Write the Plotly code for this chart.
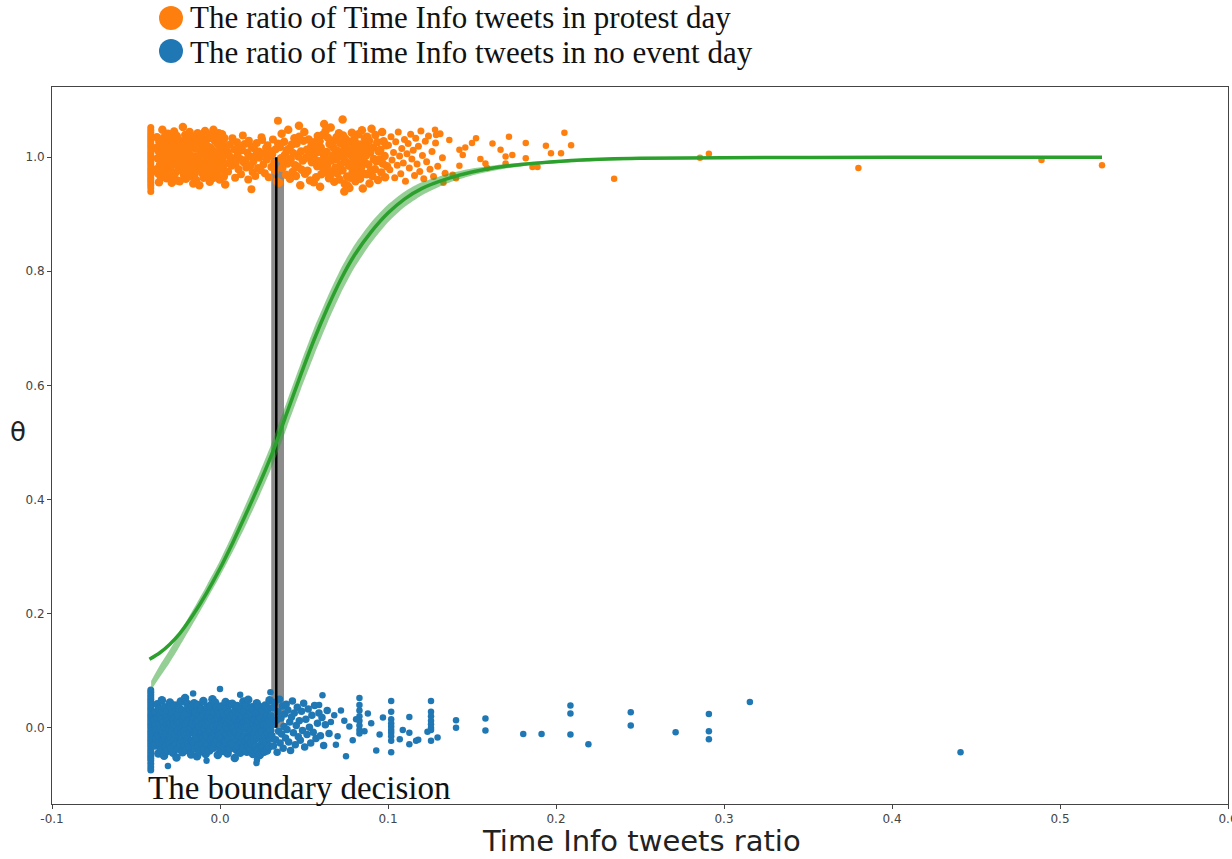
import plotly.graph_objects as go

# ---------------------------------------------------------------
# Observations: Time Info tweets ratio (x) against day label (y),
# the label is jittered around 0 (no event day) and 1 (protest day)
# ---------------------------------------------------------------

# no event days: many days share the smallest ratio value
noevent_min_x = -0.0412
noevent_min_y = [0.066, 0.062, 0.058, 0.054, 0.050, 0.046, 0.042, 0.038, 0.034, 0.030,
                 0.026, 0.022, 0.018, 0.014, 0.010, 0.006, 0.002, -0.002, -0.006, -0.010,
                 -0.014, -0.018, -0.022, -0.026, -0.030, -0.034, -0.038, -0.042, -0.046, -0.050,
                 -0.054, -0.058, -0.063, -0.069, -0.074]

noevent_x1 = [
    -0.0388, -0.0386, -0.0383, -0.0382, -0.0379, -0.0377, -0.0373, -0.0372, -0.0370, -0.0367,
    -0.0365, -0.0362, -0.0361, -0.0358, -0.0356, -0.0352, -0.0351, -0.0349, -0.0346, -0.0344,
    -0.0341, -0.0339, -0.0338, -0.0335, -0.0333, -0.0329, -0.0328, -0.0326, -0.0323, -0.0321,
    -0.0318, -0.0316, -0.0315, -0.0312, -0.0310, -0.0306, -0.0305, -0.0303, -0.0300, -0.0298,
    -0.0295, -0.0293, -0.0292, -0.0289, -0.0287, -0.0283, -0.0282, -0.0280, -0.0277, -0.0275,
    -0.0272, -0.0270, -0.0269, -0.0266, -0.0264, -0.0260, -0.0259, -0.0257, -0.0254, -0.0252,
    -0.0249, -0.0247, -0.0246, -0.0243, -0.0241, -0.0237, -0.0236, -0.0234, -0.0231, -0.0229,
    -0.0226, -0.0224, -0.0223, -0.0220, -0.0218, -0.0214, -0.0213, -0.0211, -0.0208, -0.0206,
    -0.0203, -0.0201, -0.0200, -0.0197, -0.0195, -0.0191, -0.0190, -0.0188, -0.0185, -0.0183,
    -0.0180, -0.0178, -0.0177, -0.0174, -0.0172, -0.0168, -0.0167, -0.0165, -0.0162, -0.0160,
    -0.0157, -0.0155, -0.0154, -0.0151, -0.0149, -0.0145, -0.0144, -0.0142, -0.0139, -0.0137,
    -0.0134, -0.0132, -0.0131, -0.0128, -0.0126, -0.0122, -0.0121, -0.0119, -0.0116, -0.0114,
    -0.0111, -0.0109, -0.0108, -0.0105, -0.0103, -0.0099, -0.0098, -0.0096, -0.0093, -0.0091,
    -0.0088, -0.0086, -0.0085, -0.0082, -0.0080, -0.0076, -0.0075, -0.0073, -0.0070, -0.0068,
    -0.0065, -0.0063, -0.0062, -0.0059, -0.0057, -0.0053, -0.0052, -0.0050, -0.0047, -0.0045,
    -0.0042, -0.0040, -0.0039, -0.0036, -0.0034, -0.0030, -0.0029, -0.0027, -0.0024, -0.0022,
    -0.0019, -0.0017, -0.0016, -0.0013, -0.0011, -0.0007, -0.0006, -0.0004, -0.0001, 0.0001,
    0.0004, 0.0006, 0.0007, 0.0010, 0.0012, 0.0016, 0.0017, 0.0019, 0.0022, 0.0024,
    0.0027, 0.0029, 0.0030, 0.0033, 0.0035, 0.0039, 0.0040, 0.0042, 0.0045, 0.0047,
    0.0050, 0.0052, 0.0053, 0.0056, 0.0058, 0.0062, 0.0063, 0.0065, 0.0068, 0.0070,
    0.0073, 0.0075, 0.0076, 0.0079, 0.0081, 0.0085, 0.0086, 0.0088, 0.0091, 0.0093,
    0.0096, 0.0098, 0.0099, 0.0102, 0.0104, 0.0108, 0.0109, 0.0111, 0.0114, 0.0116,
    0.0119, 0.0121, 0.0122, 0.0125, 0.0127, 0.0131, 0.0132, 0.0134, 0.0137, 0.0139,
    0.0142, 0.0144, 0.0145, 0.0148, 0.0150, 0.0154, 0.0155, 0.0157, 0.0160, 0.0162,
    0.0165, 0.0167, 0.0168, 0.0171, 0.0173, 0.0177, 0.0178, 0.0180, 0.0183, 0.0185,
    0.0188, 0.0190, 0.0191, 0.0194, 0.0196, 0.0200, 0.0201, 0.0203, 0.0206, 0.0208,
    0.0211, 0.0213, 0.0214, 0.0217, 0.0219, 0.0223, 0.0224, 0.0226, 0.0229, 0.0231,
    0.0234, 0.0236, 0.0237, 0.0240, 0.0242, 0.0246, 0.0247, 0.0249, 0.0252, 0.0254,
    0.0257, 0.0259, 0.0260, 0.0263, 0.0265, 0.0269, 0.0270, 0.0272, 0.0275, 0.0277,
    0.0280, 0.0282, 0.0283, 0.0286, 0.0288, 0.0292, 0.0293, 0.0295, 0.0298, 0.0300]
noevent_y1 = [
    0.012, -0.031, 0.004, 0.027, -0.008, -0.019, 0.041, -0.002, 0.018, -0.045,
    -0.014, 0.033, 0.007, -0.026, 0.022, -0.003, -0.038, 0.015, 0.048, -0.011,
    0.029, -0.006, -0.022, 0.010, -0.049, 0.036, 0.001, -0.017, 0.024, -0.033,
    -0.009, 0.019, -0.041, 0.005, 0.031, -0.024, 0.013, -0.001, -0.029, 0.044,
    0.037, -0.016, 0.008, -0.035, 0.020, -0.005, 0.026, -0.044, 0.002, 0.014,
    -0.021, 0.006, 0.039, -0.012, -0.030, 0.017, -0.052, 0.028, -0.007, 0.011,
    0.023, -0.037, -0.004, 0.034, -0.015, 0.009, -0.027, 0.046, -0.010, 0.000,
    -0.018, 0.030, -0.043, 0.016, 0.003, -0.025, 0.021, -0.006, 0.052, -0.032,
    0.007, -0.013, 0.025, -0.039, 0.042, -0.020, 0.011, -0.028, 0.035, -0.003,
    -0.034, 0.014, -0.008, 0.032, -0.047, 0.019, -0.001, 0.038, -0.023, 0.006,
    0.016, -0.026, 0.043, -0.010, 0.004, -0.036, 0.027, -0.015, 0.009, -0.050,
    -0.005, 0.040, -0.019, 0.012, -0.031, 0.024, -0.042, 0.001, 0.031, -0.012,
    0.033, -0.009, 0.018, -0.028, 0.006, 0.047, -0.017, 0.022, -0.038, -0.002,
    -0.024, 0.008, -0.046, 0.029, -0.013, 0.015, 0.036, -0.030, 0.003, 0.020,
    0.010, -0.040, 0.026, -0.007, 0.039, -0.021, -0.003, 0.017, -0.033, 0.050,
    -0.016, 0.021, -0.035, 0.002, 0.028, -0.011, 0.044, -0.027, 0.013, -0.004,
    0.035, -0.022, 0.005, -0.048, 0.018, -0.008, 0.030, -0.014, -0.036, 0.023,
    -0.029, 0.001, 0.037, -0.018, 0.009, -0.041, 0.014, 0.026, -0.006, -0.024,
    0.019, -0.034, 0.011, 0.045, -0.025, 0.003, -0.012, 0.034, -0.045, 0.008,
    -0.002, 0.027, -0.020, 0.013, -0.037, 0.041, -0.009, -0.030, 0.021, 0.004,
    0.042, -0.011, -0.028, 0.007, 0.023, -0.016, 0.000, -0.053, 0.017, 0.031,
    -0.007, 0.015, -0.039, 0.038, -0.021, 0.010, -0.032, 0.025, 0.002, -0.014,
    0.024, -0.044, 0.013, -0.003, 0.033, -0.026, 0.019, 0.005, -0.018, 0.046,
    -0.036, 0.009, 0.029, -0.015, -0.001, 0.040, -0.023, 0.012, -0.042, 0.018,
    0.003, -0.019, 0.049, -0.031, 0.014, -0.006, 0.022, -0.037, 0.028, -0.010,
    -0.027, 0.036, -0.004, 0.020, -0.046, 0.008, 0.032, -0.012, -0.020, 0.015,
    0.013, -0.002, -0.033, 0.026, 0.043, -0.017, 0.006, -0.040, 0.011, 0.037,
    -0.012, 0.022, -0.048, 0.000, 0.018, -0.029, 0.035, -0.007, 0.025, -0.035,
    0.030, -0.023, 0.010, -0.042, 0.005, 0.039, -0.014, 0.016, -0.026, 0.001,
    -0.040, 0.004, 0.021, -0.009, 0.034, -0.033, 0.012, 0.048, -0.019, -0.005]

noevent_x2 = [
    0.0304, 0.0309, 0.0313, 0.0318, 0.0322, 0.0327, 0.0331, 0.0336, 0.0340, 0.0345,
    0.0349, 0.0354, 0.0358, 0.0363, 0.0367, 0.0372, 0.0376, 0.0381, 0.0385, 0.0390,
    0.0394, 0.0399, 0.0404, 0.0409, 0.0415, 0.0420, 0.0426, 0.0431, 0.0437, 0.0442,
    0.0448, 0.0454, 0.0460, 0.0466, 0.0472, 0.0478, 0.0485, 0.0491, 0.0498, 0.0504,
    0.0511, 0.0518, 0.0525, 0.0532, 0.0540, 0.0547, 0.0555, 0.0563, 0.0571, 0.0580,
    0.0589, 0.0598, 0.0607, 0.0617, 0.0627, 0.0638, 0.0649]
noevent_y2 = [
    0.021, -0.014, 0.035, -0.032, 0.006, 0.044, -0.021, 0.013, -0.043, 0.028,
    -0.006, 0.050, -0.027, 0.017, -0.011, 0.038, -0.036, 0.002, 0.024, -0.018,
    0.041, -0.003, 0.031, -0.025, 0.010, -0.040, 0.019, 0.047, -0.009, 0.026,
    -0.030, 0.004, 0.036, -0.016, 0.012, -0.022, 0.029, -0.005, 0.043, -0.034,
    0.015, -0.012, 0.033, 0.001, -0.027, 0.022, -0.008, 0.039, -0.019, 0.008,
    0.026, -0.014, 0.018, -0.031, 0.005, 0.030, -0.010]

noevent_sparse_x = [
    0.083, 0.083, 0.083, 0.083, 0.083, 0.083, 0.083, 0.083,
    0.061, 0.059, 0.068, 0.075, 0.093, 0.066, 0.070, 0.072, 0.077, 0.079,
    0.081, 0.086, 0.088, 0.090, 0.095, 0.097, 0.069, 0.074,
    0.1019, 0.1019, 0.1019, 0.1019, 0.1019, 0.1019, 0.1019, 0.1019, 0.1019, 0.1019,
    0.1088, 0.1127, 0.1127, 0.1127, 0.1167, 0.1180, 0.1070,
    0.1256, 0.1256, 0.1256, 0.1256, 0.1256, 0.1256, 0.1256, 0.1256,
    0.1235, 0.1295,
    0.1405, 0.1405, 0.158, 0.158, 0.1805, 0.1914, 0.2086, 0.2086, 0.2086, 0.2193,
    0.2445, 0.2445, 0.2712, 0.291, 0.291, 0.291, 0.3154, 0.4408,
    0.000, -0.016, 0.012, 0.0217, 0.022, -0.031, -0.008, 0.030]
noevent_sparse_y = [
    0.052, 0.040, 0.030, 0.020, 0.012, 0.004, -0.004, -0.010,
    0.057, 0.040, 0.022, -0.050, -0.040, 0.010, -0.015, 0.030, 0.002, -0.022,
    0.015, -0.006, 0.025, 0.008, -0.012, 0.018, -0.030, 0.012,
    0.047, 0.028, 0.015, 0.008, 0.002, -0.004, -0.009, -0.015, -0.023, -0.043,
    -0.004, 0.019, -0.009, -0.029, -0.023, -0.021, -0.020,
    0.047, 0.028, 0.020, 0.012, 0.006, 0.000, -0.004, -0.023,
    -0.007, -0.017,
    0.013, 0.000, 0.016, -0.005, -0.011, -0.011, 0.039, 0.025, -0.012, -0.029,
    0.027, 0.004, -0.008, 0.024, -0.006, -0.020, 0.045, -0.043,
    0.068, 0.060, 0.058, -0.062, -0.056, -0.067, -0.058, 0.062]

# protest days
protest_min_x = -0.0412
protest_min_y = [1.052, 1.047, 1.043, 1.039, 1.035, 1.031, 1.027, 1.023, 1.019, 1.015,
                 1.011, 1.007, 1.003, 0.999, 0.995, 0.991, 0.987, 0.983, 0.979, 0.975,
                 0.971, 0.967, 0.963, 0.959, 0.955, 0.951, 0.946, 0.940]

protest_x1 = [
    -0.0380, -0.0377, -0.0375, -0.0371, -0.0369, -0.0366, -0.0363, -0.0361, -0.0357, -0.0355,
    -0.0352, -0.0349, -0.0347, -0.0343, -0.0341, -0.0338, -0.0335, -0.0333, -0.0329, -0.0327,
    -0.0324, -0.0321, -0.0319, -0.0315, -0.0313, -0.0310, -0.0307, -0.0305, -0.0301, -0.0299,
    -0.0296, -0.0293, -0.0291, -0.0287, -0.0285, -0.0282, -0.0279, -0.0277, -0.0273, -0.0271,
    -0.0268, -0.0265, -0.0263, -0.0259, -0.0257, -0.0254, -0.0251, -0.0249, -0.0245, -0.0243,
    -0.0240, -0.0237, -0.0235, -0.0231, -0.0229, -0.0226, -0.0223, -0.0221, -0.0217, -0.0215,
    -0.0212, -0.0209, -0.0207, -0.0203, -0.0201, -0.0198, -0.0195, -0.0193, -0.0189, -0.0187,
    -0.0184, -0.0181, -0.0179, -0.0175, -0.0173, -0.0170, -0.0167, -0.0165, -0.0161, -0.0159,
    -0.0156, -0.0153, -0.0151, -0.0147, -0.0145, -0.0142, -0.0139, -0.0137, -0.0133, -0.0131,
    -0.0128, -0.0125, -0.0123, -0.0119, -0.0117, -0.0114, -0.0111, -0.0109, -0.0105, -0.0103,
    -0.0100, -0.0097, -0.0095, -0.0091, -0.0089, -0.0086, -0.0083, -0.0081, -0.0077, -0.0075,
    -0.0072, -0.0069, -0.0067, -0.0063, -0.0061, -0.0058, -0.0055, -0.0053, -0.0049, -0.0047,
    -0.0044, -0.0041, -0.0039, -0.0035, -0.0033, -0.0030, -0.0027, -0.0025, -0.0021, -0.0019,
    -0.0016, -0.0013, -0.0011, -0.0007, -0.0005, -0.0002, 0.0001, 0.0003, 0.0007, 0.0009,
    0.0012, 0.0015, 0.0017, 0.0021, 0.0023, 0.0026, 0.0029, 0.0031, 0.0035, 0.0037]
protest_y1 = [
    1.016, 0.979, 1.035, 0.998, 0.972, 1.011, 0.956, 1.027, 0.987, 1.004,
    0.965, 1.022, 0.995, 1.048, 0.982, 1.008, 0.970, 1.014, 1.036, 0.977,
    1.029, 0.999, 0.963, 1.018, 0.991, 1.041, 0.986, 0.974, 1.006, 1.024,
    0.981, 1.034, 0.989, 0.955, 1.025, 0.997, 1.012, 0.966, 1.045, 0.992,
    1.002, 0.973, 1.020, 0.987, 1.037, 0.959, 1.009, 1.030, 0.979, 0.996,
    0.958, 1.011, 1.028, 0.993, 0.977, 1.016, 1.000, 1.053, 0.983, 0.969,
    1.007, 0.985, 1.039, 0.962, 1.021, 0.990, 1.032, 0.975, 0.998, 1.014,
    0.976, 1.044, 0.987, 1.003, 0.967, 1.026, 0.981, 0.995, 1.018, 0.954,
    1.036, 0.991, 0.971, 1.015, 1.001, 0.960, 1.023, 0.988, 1.042, 0.982,
    0.997, 1.019, 0.951, 1.031, 0.986, 1.006, 0.978, 1.037, 0.972, 1.010,
    1.027, 0.964, 1.004, 0.980, 1.046, 0.992, 0.968, 1.012, 1.020, 0.985,
    0.987, 1.002, 1.033, 0.974, 0.957, 1.017, 0.994, 1.040, 0.989, 0.963,
    1.012, 0.978, 1.048, 1.000, 0.982, 1.029, 0.965, 1.007, 0.975, 1.035,
    0.970, 1.023, 0.990, 1.042, 0.995, 0.961, 1.014, 0.984, 1.026, 0.999,
    1.040, 0.996, 0.979, 1.009, 0.966, 1.033, 0.988, 0.952, 1.019, 1.005]

protest_x2 = [
    0.0043, 0.0048, 0.0054, 0.0059, 0.0063, 0.0069, 0.0074, 0.0078, 0.0085, 0.0090,
    0.0094, 0.0101, 0.0105, 0.0110, 0.0116, 0.0121, 0.0125, 0.0132, 0.0136, 0.0141,
    0.0147, 0.0152, 0.0156, 0.0163, 0.0168, 0.0172, 0.0179, 0.0183, 0.0187, 0.0194,
    0.0199, 0.0203, 0.0210, 0.0215, 0.0219, 0.0226, 0.0231, 0.0235, 0.0242, 0.0247,
    0.0251, 0.0258, 0.0263, 0.0267, 0.0274, 0.0279, 0.0283, 0.0290, 0.0295, 0.0299,
    0.0306, 0.0311, 0.0315, 0.0322, 0.0327, 0.0331, 0.0338, 0.0345,
    0.0345, 0.0187]
protest_y2 = [
    1.010, 0.975, 1.003, 1.022, 0.993, 0.985, 1.033, 0.998, 1.014, 0.964,
    0.989, 1.026, 1.006, 0.979, 1.018, 0.997, 0.970, 1.012, 1.038, 0.991,
    1.023, 0.995, 0.982, 1.008, 0.961, 1.029, 1.001, 0.986, 1.019, 0.974,
    0.993, 1.015, 0.967, 1.004, 1.025, 0.981, 1.010, 0.999, 0.977, 1.035,
    1.030, 0.987, 1.006, 0.972, 1.016, 0.996, 1.021, 0.965, 1.002, 1.011,
    0.983, 1.005, 1.031, 0.990, 0.976, 1.014, 0.958, 1.024,
    1.064, 0.944]

protest_x3 = [
    0.0352, 0.0356, 0.0363, 0.0367, 0.0371, 0.0378, 0.0382, 0.0386, 0.0393, 0.0397,
    0.0402, 0.0406, 0.0413, 0.0417, 0.0421, 0.0428, 0.0432, 0.0436, 0.0443, 0.0447,
    0.0452, 0.0456, 0.0463, 0.0467, 0.0471, 0.0478, 0.0482, 0.0486, 0.0493, 0.0497,
    0.0502, 0.0506, 0.0513, 0.0517, 0.0521, 0.0528, 0.0532, 0.0536, 0.0543, 0.0547,
    0.0551, 0.0554, 0.0558, 0.0561, 0.0565, 0.0568, 0.0572, 0.0575, 0.0579, 0.0582,
    0.0586, 0.0589, 0.0593, 0.0596, 0.0600, 0.0603, 0.0607, 0.0610, 0.0614, 0.0617,
    0.0621, 0.0624, 0.0628, 0.0631, 0.0635, 0.0638, 0.0642, 0.0645, 0.0649, 0.0652,
    0.0656, 0.0659, 0.0663, 0.0666, 0.0670, 0.0673, 0.0677, 0.0680, 0.0684, 0.0687,
    0.0691, 0.0694, 0.0698, 0.0701, 0.0705, 0.0708, 0.0712, 0.0715, 0.0719, 0.0722,
    0.0726, 0.0729, 0.0733, 0.0736, 0.0740, 0.0743, 0.0747, 0.0750, 0.0754, 0.0757,
    0.0761, 0.0764, 0.0768, 0.0771, 0.0775, 0.0778, 0.0782, 0.0785, 0.0789, 0.0792,
    0.0796, 0.0799, 0.0803, 0.0806, 0.0810, 0.0813, 0.0817, 0.0820, 0.0824, 0.0827,
    0.0831, 0.0834, 0.0838, 0.0841, 0.0845, 0.0848, 0.0852, 0.0855, 0.0859, 0.0862,
    0.0866, 0.0869, 0.0873, 0.0876, 0.0880, 0.0883, 0.0887, 0.0890, 0.0894, 0.0897,
    0.0902, 0.0907, 0.0911, 0.0916, 0.0922, 0.0925, 0.0931, 0.0936, 0.0940, 0.0945,
    0.0951, 0.0954, 0.0960, 0.0965, 0.0969, 0.0974, 0.0980, 0.0983, 0.0989, 0.0994,
    0.0730, 0.0740, 0.0770, 0.0620, 0.0470, 0.0850]
protest_y3 = [
    0.955, 1.018, 0.998, 1.041, 0.981, 0.992, 1.027, 1.004, 0.969, 1.012,
    0.989, 1.048, 1.015, 0.962, 0.997, 1.022, 0.974, 1.007, 1.033, 0.986,
    0.967, 1.024, 0.983, 1.001, 1.036, 0.951, 1.010, 0.978, 0.994, 1.029,
    1.044, 0.971, 0.999, 1.013, 0.976, 1.031, 1.005, 0.959, 1.019, 0.991,
    1.014, 1.002, 0.956, 1.026, 0.995, 1.020, 0.965, 1.008, 0.984, 1.037,
    1.011, 0.993, 1.028, 0.948, 1.017, 0.970, 0.988, 1.039, 1.006, 0.979,
    1.000, 0.990, 1.046, 0.973, 1.009, 0.985, 1.034, 0.996, 0.963, 1.023,
    0.968, 1.052, 0.994, 1.021, 0.975, 1.003, 1.016, 0.957, 1.030, 0.982,
    0.997, 1.035, 0.972, 1.011, 0.980, 1.042, 0.961, 1.025, 0.987, 1.007,
    1.006, 0.977, 1.038, 0.999, 1.019, 0.953, 1.032, 0.992, 1.014, 0.966,
    0.950, 1.009, 0.985, 1.027, 0.964, 1.004, 0.990, 1.043, 0.974, 1.016,
    0.988, 1.031, 1.001, 0.958, 1.024, 0.969, 1.012, 0.981, 1.040, 0.995,
    0.998, 0.962, 1.022, 0.983, 1.047, 1.006, 0.972, 1.018, 0.991, 1.033,
    1.020, 1.003, 0.970, 1.036, 1.015, 0.987, 1.029, 0.954, 1.008, 0.976,
    1.050, 0.967, 1.017, 0.997, 0.979, 1.039, 0.993, 1.026, 0.960, 1.010,
    0.996, 1.013, 0.973, 1.044, 0.989, 1.028, 1.002, 0.965, 1.021, 0.984,
    1.066, 0.940, 0.946, 1.058, 1.055, 0.945]

protest_x4 = [
    0.1003, 0.1011, 0.1018, 0.1024, 0.1033, 0.1040, 0.1046, 0.1055, 0.1061, 0.1069,
    0.1076, 0.1082, 0.1091, 0.1098, 0.1104, 0.1113, 0.1120, 0.1127, 0.1135, 0.1142,
    0.1150, 0.1158, 0.1165, 0.1173, 0.1181, 0.1189, 0.1196, 0.1205, 0.1213, 0.1222,
    0.1230, 0.1241, 0.1250, 0.1262, 0.1271, 0.1283, 0.1296, 0.1310, 0.1324, 0.1340]
protest_y4 = [
    1.021, 0.978, 1.036, 0.995, 1.008, 0.964, 1.027, 0.986, 1.044, 1.002,
    0.971, 1.015, 0.990, 1.031, 0.958, 1.006, 1.024, 0.981, 1.040, 0.997,
    1.012, 0.968, 1.033, 0.988, 1.019, 0.975, 1.046, 1.003, 0.962, 1.028,
    0.992, 1.037, 0.979, 1.010, 0.966, 1.025, 0.984, 1.041, 0.999, 0.972]

protest_sparse_x = [
    0.1286, 0.1365, 0.1425, 0.1385, 0.1425, 0.1445, 0.1405, 0.1524, 0.1500, 0.1622,
    0.1720, 0.1670, 0.1700, 0.1740, 0.1820, 0.1820, 0.1580, 0.1590, 0.1700, 0.1860,
    0.1890, 0.1940, 0.1970, 0.2030, 0.2050, 0.2090, 0.1460, 0.1550, 0.1330, 0.1280,
    0.2346, 0.2857, 0.2910, 0.3800, 0.4890, 0.5250]
protest_sparse_y = [
    1.039, 1.030, 1.013, 0.969, 0.985, 1.004, 0.963, 1.033, 1.025, 1.024,
    1.036, 1.013, 1.001, 1.004, 1.025, 0.998, 0.989, 0.981, 0.989, 0.983,
    0.983, 1.020, 1.007, 1.007, 1.043, 1.021, 1.017, 0.997, 0.955, 1.048,
    0.962, 0.999, 1.006, 0.981, 0.995, 0.986]

# ---------------------------------------------------------------
# Fitted logistic curve θ(x): posterior mean and HDI band
# ---------------------------------------------------------------
theta_x = [-0.042, -0.036, -0.030, -0.024, -0.016, -0.008, 0.000, 0.008, 0.016, 0.024,
           0.032, 0.040, 0.048, 0.056, 0.064, 0.072, 0.080, 0.090, 0.100, 0.110,
           0.120, 0.135, 0.150, 0.170, 0.190, 0.215, 0.250, 0.300, 0.400, 0.525]
theta_mean = [0.120, 0.131, 0.146, 0.165, 0.198, 0.236, 0.279, 0.327, 0.378, 0.431,
              0.488, 0.553, 0.618, 0.680, 0.736, 0.786, 0.828, 0.869, 0.902, 0.927,
              0.945, 0.962, 0.974, 0.984, 0.990, 0.995, 0.998, 0.999, 1.000, 1.000]

hdi_x = [-0.041, -0.036, -0.030, -0.024, -0.016, -0.008, 0.000, 0.008, 0.016, 0.024,
         0.032, 0.040, 0.048, 0.056, 0.064, 0.072, 0.080, 0.090, 0.100, 0.110,
         0.120, 0.135, 0.150, 0.170, 0.190, 0.215, 0.250, 0.300, 0.400, 0.525]
hdi_lo = [0.066, 0.088, 0.114, 0.143, 0.183, 0.224, 0.266, 0.311, 0.359, 0.410,
          0.465, 0.528, 0.592, 0.653, 0.710, 0.762, 0.806, 0.850, 0.886, 0.913,
          0.933, 0.954, 0.968, 0.980, 0.987, 0.992, 0.996, 0.998, 0.999, 0.9995]
hdi_hi = [0.082, 0.108, 0.136, 0.166, 0.207, 0.249, 0.293, 0.343, 0.396, 0.450,
          0.508, 0.573, 0.638, 0.700, 0.755, 0.805, 0.846, 0.886, 0.917, 0.940,
          0.956, 0.970, 0.980, 0.988, 0.993, 0.997, 0.999, 1.000, 1.000, 1.000]

# decision boundary (θ = 0.5) and its HDI
boundary_mean = 0.0335
boundary_lo = 0.0305
boundary_hi = 0.0381

x_ticks = [-0.1, 0.0, 0.1, 0.2, 0.3, 0.4, 0.5, 0.6]
x_tick_labels = ["-0.1", "0.0", "0.1", "0.2", "0.3", "0.4", "0.5", "0.6"]
y_ticks = [0.0, 0.2, 0.4, 0.6, 0.8, 1.0]
y_tick_labels = ["0.0", "0.2", "0.4", "0.6", "0.8", "1.0"]

legend_labels = ["The ratio of Time Info tweets in protest day",
                 "The ratio of Time Info tweets in no event day"]

# ---------------------------------------------------------------
ORANGE = "#ff7f0e"
BLUE = "#1f77b4"
GREEN = "#2ca02c"

W, H = 1232, 859
L, R, T, B = 52, 4, 87, 55


def fx(px):
    return (px - L) / (W - L - R)


def fy(py):
    return (H - B - py) / (H - T - B)


def scatter(xs, ys, color, size):
    return go.Scatter(x=xs, y=ys, mode="markers", hoverinfo="skip",
                      marker=dict(color=color, size=size, line=dict(width=0)))


fig = go.Figure()

# boundary HDI band (under the points)
fig.add_trace(go.Scatter(
    x=[boundary_lo, boundary_hi, boundary_hi, boundary_lo, boundary_lo],
    y=[0, 0, 1, 1, 0], mode="lines", fill="toself",
    fillcolor="rgba(0,0,0,0.45)", line=dict(width=0), hoverinfo="skip"))

# no event days
fig.add_trace(scatter([noevent_min_x] * len(noevent_min_y), noevent_min_y, BLUE, 7))
fig.add_trace(scatter(noevent_x1, noevent_y1, BLUE, 8.5))
fig.add_trace(scatter(noevent_x2, noevent_y2, BLUE, 7.5))
fig.add_trace(scatter(noevent_sparse_x, noevent_sparse_y, BLUE, 6.5))

# protest days
fig.add_trace(scatter([protest_min_x] * len(protest_min_y), protest_min_y, ORANGE, 7))
fig.add_trace(scatter(protest_x1, protest_y1, ORANGE, 8.5))
fig.add_trace(scatter(protest_x2, protest_y2, ORANGE, 8))
fig.add_trace(scatter(protest_x3, protest_y3, ORANGE, 8.5))
fig.add_trace(scatter(protest_x4, protest_y4, ORANGE, 7))
fig.add_trace(scatter(protest_sparse_x, protest_sparse_y, ORANGE, 6.5))

# boundary line
fig.add_trace(go.Scatter(x=[boundary_mean, boundary_mean], y=[0, 1], mode="lines",
                         line=dict(color="black", width=2.5), hoverinfo="skip"))

# logistic HDI band and mean curve
fig.add_trace(go.Scatter(x=hdi_x, y=hdi_lo, mode="lines",
                         line=dict(width=0, shape="spline", smoothing=0.6),
                         hoverinfo="skip"))
fig.add_trace(go.Scatter(x=hdi_x, y=hdi_hi, mode="lines", fill="tonexty",
                         fillcolor="rgba(44,160,44,0.5)",
                         line=dict(width=0, shape="spline", smoothing=0.6),
                         hoverinfo="skip"))
fig.add_trace(go.Scatter(x=theta_x, y=theta_mean, mode="lines", hoverinfo="skip",
                         line=dict(color=GREEN, width=3.5, shape="spline", smoothing=0.6)))

axis_common = dict(showgrid=False, zeroline=False, showline=True, mirror=True,
                   linecolor="#444444", linewidth=1, ticks="outside", ticklen=4,
                   tickcolor="#444444", ticklabeloverflow="allow", automargin=False,
                   tickfont=dict(family="DejaVu Sans", size=12, color="#444444"))

fig.update_layout(
    width=W, height=H,
    margin=dict(l=L, r=R, t=T, b=B, autoexpand=False),
    paper_bgcolor="white", plot_bgcolor="white",
    showlegend=False,
    xaxis=dict(range=[-0.1, 0.6], tickvals=x_ticks, ticktext=x_tick_labels, **axis_common),
    yaxis=dict(range=[-0.1337, 1.123], tickvals=y_ticks, ticktext=y_tick_labels, **axis_common),
)

serif = "Liberation Serif"
annotations = [
    dict(text=legend_labels[0], x=fx(188), y=fy(18), xanchor="left", yanchor="middle",
         font=dict(family=serif, size=31, color="#111111")),
    dict(text=legend_labels[1], x=fx(188), y=fy(52.5), xanchor="left", yanchor="middle",
         font=dict(family=serif, size=31, color="#111111")),
    dict(text="The boundary decision", x=fx(146), y=fy(788), xanchor="left", yanchor="middle",
         font=dict(family=serif, size=33, color="#111111")),
    dict(text="Time Info tweets ratio", x=fx(641), y=fy(841), xanchor="center", yanchor="middle",
         font=dict(family="DejaVu Sans", size=29, color="#222222")),
    dict(text="θ", x=fx(18), y=fy(432), xanchor="center", yanchor="middle",
         font=dict(family="DejaVu Sans", size=26, color="#222222")),
]
for a in annotations:
    a.update(xref="paper", yref="paper", showarrow=False)
fig.update_layout(annotations=annotations)

# legend markers
for cy, col in [(18, ORANGE), (51, BLUE)]:
    fig.add_shape(type="circle", xref="paper", yref="paper",
                  xsizemode="pixel", ysizemode="pixel",
                  xanchor=fx(171), yanchor=fy(cy),
                  x0=-12, x1=12, y0=-12, y1=12,
                  fillcolor=col, line=dict(width=0))

fig.write_html("out.html")
